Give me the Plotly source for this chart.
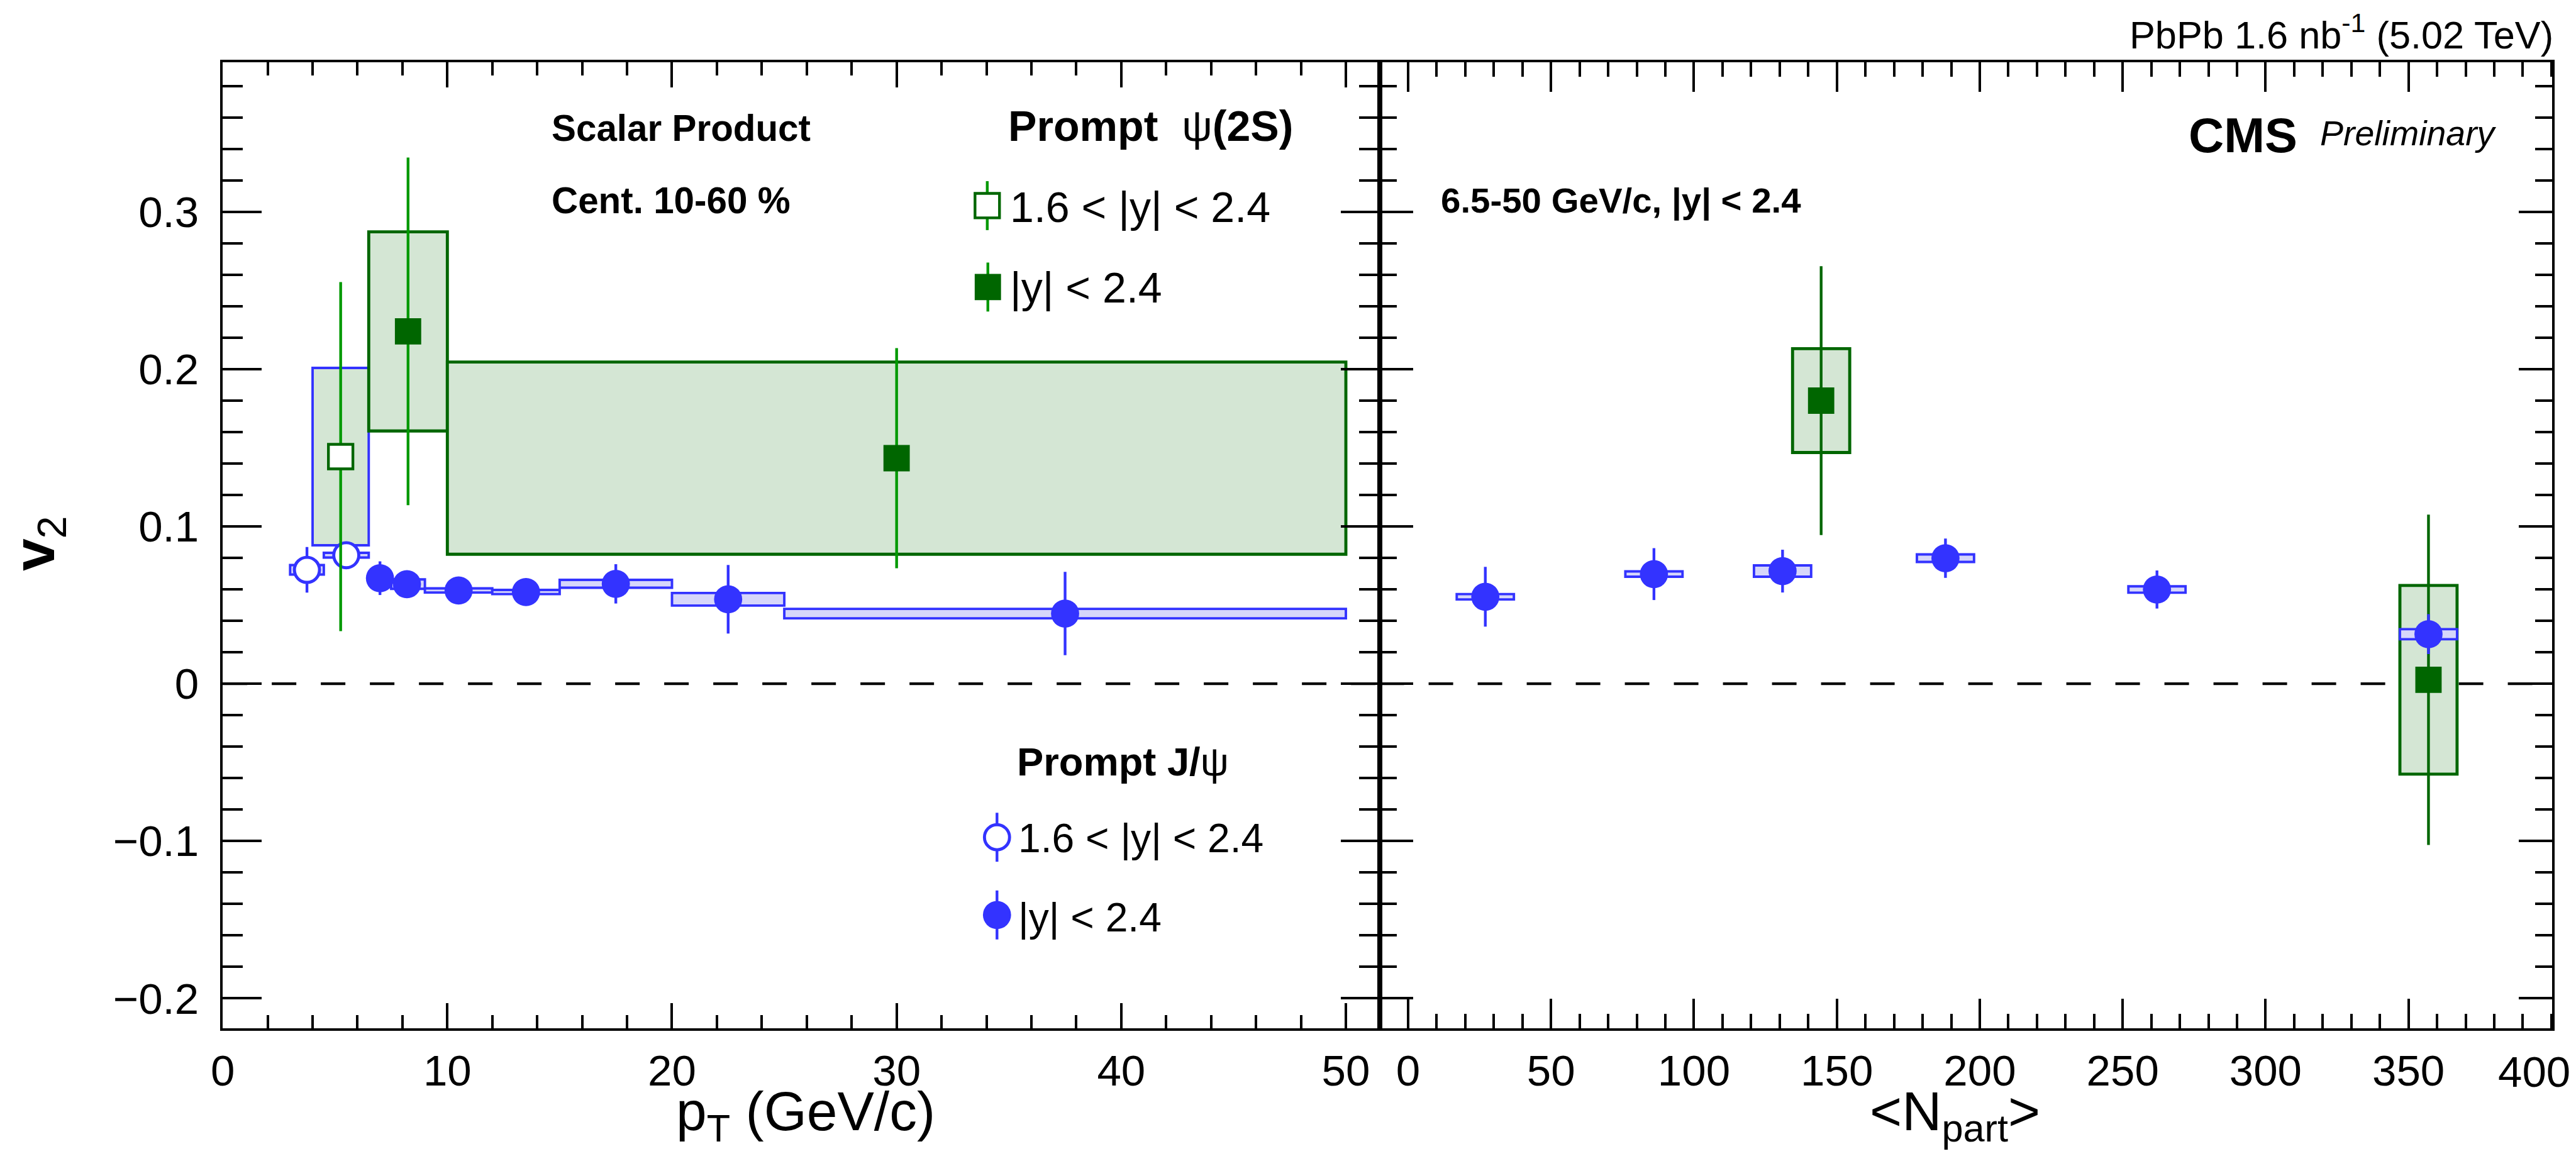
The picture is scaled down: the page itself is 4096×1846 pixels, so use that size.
import plotly.graph_objects as go

# ---------------- data : v2 vs pT ----------------
jpsi_fwd_pt = [3.75, 5.5]
jpsi_fwd_pt_lo = [3.0, 4.5]
jpsi_fwd_pt_hi = [4.5, 6.5]
jpsi_fwd_v2 = [0.0724, 0.0817]
jpsi_fwd_stat = [0.0145, 0.008]
jpsi_fwd_sys = [0.003, 0.0015]

jpsi_mid_pt = [7.0, 8.2, 10.5, 13.5, 17.5, 22.5, 37.5]
jpsi_mid_pt_lo = [6.5, 7.5, 9.0, 12.0, 15.0, 20.0, 25.0]
jpsi_mid_pt_hi = [7.5, 9.0, 12.0, 15.0, 20.0, 25.0, 50.0]
jpsi_mid_v2 = [0.0671, 0.0633, 0.0593, 0.0583, 0.0635, 0.0537, 0.0446]
jpsi_mid_stat = [0.0107, 0.007, 0.006, 0.006, 0.0125, 0.0218, 0.0265]
jpsi_mid_sys = [0.002, 0.003, 0.0013, 0.0013, 0.0025, 0.004, 0.003]

psi2s_fwd_pt = [5.25]
psi2s_fwd_pt_lo = [4.0]
psi2s_fwd_pt_hi = [6.5]
psi2s_fwd_v2 = [0.1444]
psi2s_fwd_stat = [0.111]
psi2s_fwd_sys = [0.0564]

psi2s_mid_pt = [8.25, 30.0]
psi2s_mid_pt_lo = [6.5, 10.0]
psi2s_mid_pt_hi = [10.0, 50.0]
psi2s_mid_v2 = [0.224, 0.1434]
psi2s_mid_stat = [0.1105, 0.070]
psi2s_mid_sys = [0.0633, 0.0611]

# ---------------- data : v2 vs Npart ----------------
jpsi_npart = [27, 86, 131, 188, 262, 357]
jpsi_npart_v2 = [0.0553, 0.0697, 0.0716, 0.0798, 0.0599, 0.0315]
jpsi_npart_stat = [0.019, 0.0165, 0.0136, 0.0125, 0.0121, 0.0127]
jpsi_npart_sys = [0.0017, 0.0017, 0.0036, 0.0024, 0.002, 0.0032]

psi2s_npart = [144.5, 357]
psi2s_npart_v2 = [0.180, 0.0025]
psi2s_npart_stat = [0.0855, 0.105]
psi2s_npart_sys = [0.033, 0.060]
npart_box_half = 10

# ---------------- ticks ----------------
pt_ticks = [0, 10, 20, 30, 40, 50]
pt_ticklabels = ["0", "10", "20", "30", "40", "50"]
npart_ticks = [0, 50, 100, 150, 200, 250, 300, 350, 400]
npart_ticklabels = ["0", "50", "100", "150", "200", "250", "300", "350", "400"]
v2_ticks = [-0.2, -0.1, 0, 0.1, 0.2, 0.3]
v2_ticklabels = ["\u22120.2", "\u22120.1", "0", "0.1", "0.2", "0.3"]

# ---------------- geometry helpers (reference pixel frame) ----------------
S = 0.973
RW, RH = 4209, 1897
FONT = "Liberation Sans, Arial, Helvetica, sans-serif"


def px(x):
    return x / RW


def py(y):
    return 1 - y / RH


BLUE = "#3333ff"
BLUE_FILL = "#d6d6fa"
DGREEN = "#006600"
LGREEN = "#009900"
GREEN_FILL = "#d4e6d4"

fig = go.Figure()

shapes = []


def boxes(xlo, xhi, v, s, xref, yref, line_color, fill, lw):
    for a, b, c, d in zip(xlo, xhi, v, s):
        shapes.append(dict(type="rect", xref=xref, yref=yref, x0=a, x1=b,
                           y0=c - d, y1=c + d, layer="below",
                           line=dict(color=line_color, width=lw), fillcolor=fill))


# left panel boxes
boxes(psi2s_fwd_pt_lo, psi2s_fwd_pt_hi, psi2s_fwd_v2, psi2s_fwd_sys, "x", "y", BLUE, GREEN_FILL, 4 * S)
boxes(psi2s_mid_pt_lo, psi2s_mid_pt_hi, psi2s_mid_v2, psi2s_mid_sys, "x", "y", DGREEN, GREEN_FILL, 5 * S)
boxes(jpsi_fwd_pt_lo, jpsi_fwd_pt_hi, jpsi_fwd_v2, jpsi_fwd_sys, "x", "y", BLUE, BLUE_FILL, 4 * S)
boxes(jpsi_mid_pt_lo, jpsi_mid_pt_hi, jpsi_mid_v2, jpsi_mid_sys, "x", "y", BLUE, BLUE_FILL, 4 * S)
# right panel boxes
boxes([n - npart_box_half for n in psi2s_npart], [n + npart_box_half for n in psi2s_npart],
      psi2s_npart_v2, psi2s_npart_sys, "x2", "y2", DGREEN, GREEN_FILL, 5 * S)
boxes([n - npart_box_half for n in jpsi_npart], [n + npart_box_half for n in jpsi_npart],
      jpsi_npart_v2, jpsi_npart_sys, "x2", "y2", BLUE, BLUE_FILL, 4 * S)

# zero lines
for xr, yr in (("x domain", "y"), ("x2 domain", "y2")):
    shapes.append(dict(type="line", xref=xr, yref=yr, x0=0, x1=1, y0=0, y1=0, layer="below",
                       line=dict(color="black", width=4.5 * S, dash="39px,39px")))

ERRW = 4.5 * S


def err(arr, color):
    return dict(type="data", array=arr, visible=True, width=0, thickness=ERRW, color=color)


# ---- left panel traces ----
fig.add_trace(go.Scatter(x=jpsi_fwd_pt, y=jpsi_fwd_v2, mode="markers", xaxis="x", yaxis="y",
                         marker=dict(symbol="circle", size=41 * S, color="white",
                                     line=dict(color=BLUE, width=5 * S)),
                         error_y=err(jpsi_fwd_stat, BLUE)))
fig.add_trace(go.Scatter(x=jpsi_mid_pt, y=jpsi_mid_v2, mode="markers", xaxis="x", yaxis="y",
                         marker=dict(symbol="circle", size=46 * S, color=BLUE, line=dict(width=0)),
                         error_y=err(jpsi_mid_stat, BLUE)))
fig.add_trace(go.Scatter(x=psi2s_fwd_pt, y=psi2s_fwd_v2, mode="markers", xaxis="x", yaxis="y",
                         marker=dict(symbol="square", size=40 * S, color="white",
                                     line=dict(color=DGREEN, width=4.5 * S)),
                         error_y=err(psi2s_fwd_stat, LGREEN)))
fig.add_trace(go.Scatter(x=psi2s_mid_pt, y=psi2s_mid_v2, mode="markers", xaxis="x", yaxis="y",
                         marker=dict(symbol="square", size=43 * S, color=DGREEN, line=dict(width=0)),
                         error_y=err(psi2s_mid_stat, LGREEN)))

# ---- right panel traces ----
fig.add_trace(go.Scatter(x=psi2s_npart, y=psi2s_npart_v2, mode="markers", xaxis="x2", yaxis="y2",
                         marker=dict(symbol="square", size=43 * S, color=DGREEN, line=dict(width=0)),
                         error_y=err(psi2s_npart_stat, DGREEN)))
fig.add_trace(go.Scatter(x=jpsi_npart, y=jpsi_npart_v2, mode="markers", xaxis="x2", yaxis="y2",
                         marker=dict(symbol="circle", size=46 * S, color=BLUE, line=dict(width=0)),
                         error_y=err(jpsi_npart_stat, BLUE)))

# ---- legend glyphs (on a page-sized helper axis, reference pixel frame) ----
leg_glyph_x = [1601, 1602, 1617, 1617]
leg_glyph_y = [336, 469, 1368, 1495]
leg_bar = 40
glyph_styles = [
    dict(symbol="square", size=40 * S, color="white", line=dict(color=DGREEN, width=4.5 * S)),
    dict(symbol="square", size=43 * S, color=DGREEN, line=dict(width=0)),
    dict(symbol="circle", size=41 * S, color="white", line=dict(color=BLUE, width=5 * S)),
    dict(symbol="circle", size=46 * S, color=BLUE, line=dict(width=0)),
]
glyph_bar_colors = [LGREEN, LGREEN, BLUE, BLUE]
for gx, gy, st, bc in zip(leg_glyph_x, leg_glyph_y, glyph_styles, glyph_bar_colors):
    fig.add_trace(go.Scatter(x=[gx], y=[gy], mode="markers", xaxis="x3", yaxis="y3",
                             marker=st, error_y=err([leg_bar], bc)))

# ---------------- annotations ----------------
annotations = []


def ann(text, x, base, fs, xanchor="left", font_color="black"):
    annotations.append(dict(text=text, x=px(x), y=py(base + 0.212 * fs), xref="paper", yref="paper",
                            xanchor=xanchor, yanchor="bottom", showarrow=False,
                            font=dict(family=FONT, size=fs * S, color=font_color)))


ann("<b>Scalar Product</b>", 884, 232, 60)
ann("<b>Cent. 10-60 %</b>", 884, 350, 60)
ann("<b>Prompt</b>\u00a0\u00a0\u03c8<b>(2S)</b>", 1633, 232, 70)
ann("1.6 < |y| < 2.4", 1636, 364, 70)
ann("|y| < 2.4", 1636, 496, 70)
ann("<b>Prompt J/</b>\u03c8", 1648, 1269, 65)
ann("1.6 < |y| < 2.4", 1650, 1395, 66)
ann("|y| < 2.4", 1650, 1524, 66)
ann("<b>6.5-50 GeV/c, |y| < 2.4</b>", 2343, 350, 58)
ann("<b>CMS</b>", 3571, 250, 80)
ann("<i>Preliminary</i>", 3787, 240, 57)
ann("PbPb 1.6 nb<sup>-1</sup> (5.02 TeV)", 4174, 81, 63, xanchor="right")
# last Npart tick label: pulled inside the page like the reference (ROOT keeps it within the pad)
ann(npart_ticklabels[-1], 4140, 1778, 71, xanchor="center")

# axis titles
TFS = 90
annotations.append(dict(text="p<sub>T</sub> (GeV/c)", x=px(1303), y=py(1845 - 0.905 * TFS),
                        xref="paper", yref="paper", xanchor="center", yanchor="top", showarrow=False,
                        font=dict(family=FONT, size=TFS * S, color="black")))
annotations.append(dict(text="<N<sub>part</sub>>", x=px(3190), y=py(1845 - 0.905 * TFS),
                        xref="paper", yref="paper", xanchor="center", yanchor="top", showarrow=False,
                        font=dict(family=FONT, size=TFS * S, color="black")))
annotations.append(dict(text="<b>v</b><sub>2</sub>", x=px(42), y=py(888), textangle=-90,
                        xref="paper", yref="paper", xanchor="center", yanchor="middle", showarrow=False,
                        font=dict(family=FONT, size=95 * S, color="black")))

# ---------------- axes ----------------
LINEW = 4.3 * S
TICKW = 4 * S
TFONT = dict(family=FONT, size=71 * S, color="black")
ydom = [py(1680), py(102)]

common = dict(showline=True, linecolor="black", linewidth=LINEW, mirror="ticks", ticks="inside",
              tickwidth=TICKW, tickcolor="black", showgrid=False, zeroline=False, tickfont=TFONT)

fig.update_layout(
    width=4096, height=1846, margin=dict(l=0, r=0, t=0, b=0, pad=0),
    paper_bgcolor="white", plot_bgcolor="rgba(0,0,0,0)", showlegend=False,
    xaxis=dict(domain=[px(346), px(2245)], range=[0, 51.5], anchor="y",
               tickmode="array", tickvals=pt_ticks, ticktext=pt_ticklabels,
               ticklen=41 * S, ticklabelstandoff=4,
               minor=dict(tickmode="linear", tick0=0, dtick=2, ticks="inside", ticklen=21 * S,
                          tickwidth=TICKW, tickcolor="black"), **common),
    yaxis=dict(domain=ydom, range=[-0.219, 0.395], anchor="x",
               tickmode="array", tickvals=v2_ticks, ticktext=v2_ticklabels,
               ticklen=63 * S, ticklabelstandoff=20,
               minor=dict(tickmode="linear", tick0=0, dtick=0.02, ticks="inside", ticklen=33 * S,
                          tickwidth=TICKW, tickcolor="black"), **common),
    xaxis2=dict(domain=[px(2245), px(4170)], range=[-10, 400.3], anchor="y2",
                tickmode="array", tickvals=npart_ticks[:-1], ticktext=npart_ticklabels[:-1],
                ticklen=48 * S, ticklabelstandoff=4,
                minor=dict(tickmode="linear", tick0=0, dtick=10, ticks="inside", ticklen=23 * S,
                           tickwidth=TICKW, tickcolor="black"), **common),
    yaxis2=dict(domain=ydom, range=[-0.219, 0.395], anchor="x2", showticklabels=False,
                tickmode="array", tickvals=v2_ticks,
                ticklen=55 * S,
                minor=dict(tickmode="linear", tick0=0, dtick=0.02, ticks="inside", ticklen=28 * S,
                           tickwidth=TICKW, tickcolor="black"), **common),
    xaxis3=dict(domain=[0, 1], range=[0, RW], anchor="y3", visible=False, fixedrange=True),
    yaxis3=dict(domain=[0, 1], range=[RH, 0], anchor="x3", visible=False, fixedrange=True),
    shapes=shapes, annotations=annotations,
)

fig.write_html("out.html")
